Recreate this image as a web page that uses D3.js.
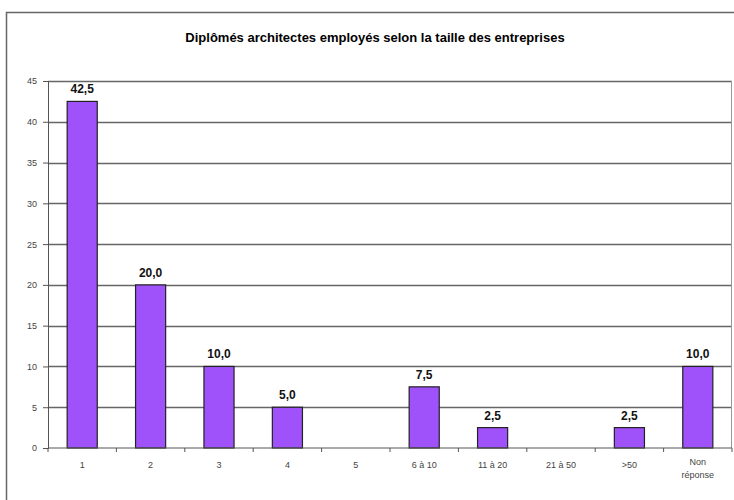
<!DOCTYPE html>
<html>
<head>
<meta charset="utf-8">
<script src="https://cdn.jsdelivr.net/npm/d3@7"></script>
<style>
  body { margin: 0; background: #fff; }
  svg { display: block; font-family: "Liberation Sans", Arial, sans-serif; }
</style>
</head>
<body>
<div class="chart"></div>
<script>
const categories = ["1", "2", "3", "4", "5", "6 à 10", "11 à 20", "21 à 50", ">50", "Non réponse"];
const values = [42.5, 20.0, 10.0, 5.0, 0, 7.5, 2.5, 0, 2.5, 10.0];
const yTicks = [0, 5, 10, 15, 20, 25, 30, 35, 40, 45];
const title = "Diplômés architectes employés selon la taille des entreprises";

const svg_width = 734;
const svg_height = 500;
const chart_margin = {top: 81, right: 2, bottom: 52, left: 48};
const chart_width = svg_width - (chart_margin.left + chart_margin.right);
const chart_height = svg_height - (chart_margin.top + chart_margin.bottom);

const svg = d3.select('.chart').append('svg')
    .attr('width', svg_width).attr('height', svg_height);

// outer frame of the chart area
svg.append('rect')
    .attr('x', 6.5).attr('y', 12.5)
    .attr('width', 760).attr('height', 520)
    .attr('fill', 'none').attr('stroke', '#666').attr('stroke-width', 1.5);

svg.append('text')
    .attr('x', 375).attr('y', 42)
    .attr('text-anchor', 'middle')
    .style('font-size', '13px').style('font-weight', 'bold')
    .text(title);

const g = svg.append('g')
    .attr('transform', `translate(${chart_margin.left},${chart_margin.top})`);

const xScale = d3.scaleBand().domain(categories)
    .range([0, chart_width])
    .paddingInner(0.56).paddingOuter(0.28);
const yScale = d3.scaleLinear([0, 45], [chart_height, 0]);

// gridlines
g.append('g').selectAll('line')
    .data(yTicks.filter(d => d > 0))
    .join('line')
    .attr('x1', 0).attr('x2', chart_width)
    .attr('y1', d => Math.round(yScale(d)) + 0.5)
    .attr('y2', d => Math.round(yScale(d)) + 0.5)
    .attr('stroke', '#666').attr('stroke-width', 1.3);

// right border of plot
g.append('line')
    .attr('x1', chart_width - 0.5).attr('x2', chart_width - 0.5)
    .attr('y1', 0).attr('y2', chart_height)
    .attr('stroke', '#999');

// bars
g.append('g').selectAll('.bar')
    .data(values.map((v, i) => ({cat: categories[i], val: v})).filter(d => d.val > 0))
    .join('rect')
    .attr('class', 'bar')
    .attr('x', d => xScale(d.cat))
    .attr('y', d => yScale(d.val))
    .attr('width', xScale.bandwidth())
    .attr('height', d => chart_height - yScale(d.val))
    .attr('fill', '#a052fa').attr('stroke', '#222').attr('stroke-width', 1.2);

// value labels
const fmt = d => d3.format('.1f')(d).replace('.', ',');
g.append('g').selectAll('text')
    .data(values.map((v, i) => ({cat: categories[i], val: v})).filter(d => d.val > 0))
    .join('text')
    .attr('x', d => xScale(d.cat) + xScale.bandwidth() / 2)
    .attr('y', d => yScale(d.val) - 8)
    .attr('text-anchor', 'middle')
    .style('font-size', '12px').style('font-weight', 'bold').style('fill', '#111')
    .text(d => fmt(d.val));

// y axis
const yAxis = d3.axisLeft(yScale).tickValues(yTicks).tickSize(5).tickPadding(6);
const yAxisDraw = g.append('g').attr('class', 'y axis').call(yAxis);
yAxisDraw.select('.domain').attr('stroke', '#555');
yAxisDraw.selectAll('line').attr('stroke', '#555');
yAxisDraw.selectAll('text').style('font-size', '9px').style('fill', '#444')
    .style('font-family', '"Liberation Sans", Arial, sans-serif');

// x axis with ticks at category boundaries
const xAxisDraw = g.append('g').attr('class', 'x axis')
    .attr('transform', `translate(0,${chart_height})`);
xAxisDraw.append('line')
    .attr('x1', 0).attr('x2', chart_width)
    .attr('stroke', '#555');
const step = xScale.step();
const edge = i => i === 0 ? 0 : xScale(categories[i - 1]) + xScale.bandwidth() + xScale.paddingInner() * step / 2;
xAxisDraw.selectAll('.tick')
    .data(d3.range(categories.length + 1))
    .join('line')
    .attr('class', 'tick')
    .attr('x1', i => edge(i))
    .attr('x2', i => edge(i))
    .attr('y1', 0).attr('y2', 4)
    .attr('stroke', '#555');

const xLabels = xAxisDraw.selectAll('.lbl')
    .data(categories)
    .join('text')
    .attr('class', 'lbl')
    .attr('x', d => xScale(d) + xScale.bandwidth() / 2)
    .attr('y', 20)
    .attr('text-anchor', 'middle')
    .style('font-size', '9px').style('fill', '#444');
xLabels.each(function(d) {
    const words = d === "Non réponse" ? ["Non", "réponse"] : [d];
    const t = d3.select(this);
    words.forEach((w, i) => {
        t.append('tspan')
            .attr('x', xScale(d) + xScale.bandwidth() / 2)
            .attr('dy', i === 0 ? (words.length > 1 ? -3 : 0) : 13)
            .text(w);
    });
});
</script>
</body>
</html>
